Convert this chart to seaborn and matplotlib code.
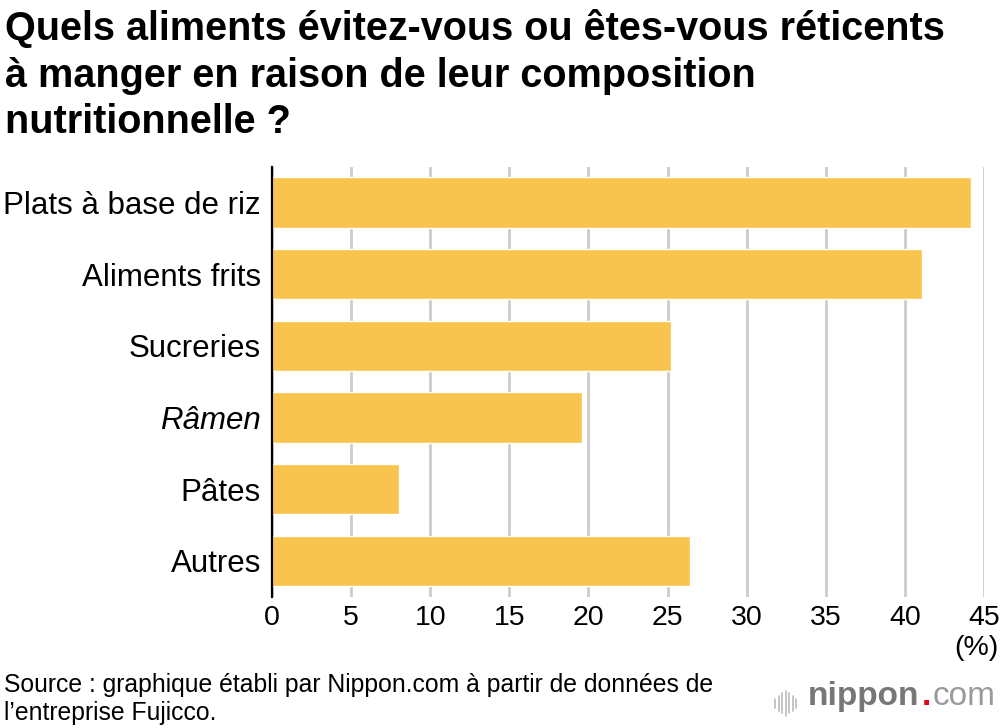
import matplotlib
matplotlib.use("Agg")
import matplotlib.pyplot as plt
from matplotlib.lines import Line2D
import seaborn as sns
import pandas as pd

categories = ["Plats à base de riz", "Aliments frits", "Sucreries", "Râmen", "Pâtes", "Autres"]
values = [44.2, 41.1, 25.2, 19.6, 8.0, 26.4]
xticks = [0, 5, 10, 15, 20, 25, 30, 35, 40, 45]

title = "Quels aliments évitez-vous ou êtes-vous réticents\nà manger en raison de leur composition\nnutritionnelle ?"
source = "Source : graphique établi par Nippon.com à partir de données de\nl’entreprise Fujicco."

sns.set_theme(style="white")
plt.rcParams['font.family'] = ['Liberation Sans', 'DejaVu Sans']

df = pd.DataFrame({"cat": categories, "val": values})

fig = plt.figure(figsize=(10, 7.28), dpi=100)
ax = fig.add_axes([0.272, 0.1804, 0.712, 0.5906])

sns.barplot(data=df, x="val", y="cat", orient="h", color="#F8C44E", width=0.7,
            saturation=1, ax=ax, zorder=3)

ax.set_xlim(0, 45)
ax.set_ylim(5.5, -0.5)
ax.set_xticks(xticks)
ax.set_xticklabels([str(t) for t in xticks])
ax.xaxis.grid(True, color="#CCCCCC", linewidth=2, zorder=0)
ax.set_axisbelow(True)
ax.set_xlabel("")
ax.set_ylabel("")
for s in ["top", "right", "bottom"]:
    ax.spines[s].set_visible(False)
ax.spines["left"].set_color("black")
ax.spines["left"].set_linewidth(1.6)
ax.spines["left"].set_zorder(5)
ax.tick_params(axis="x", length=0, labelsize=20.5, pad=6, colors="black")
ax.tick_params(axis="y", length=0, labelsize=22.5, pad=8, colors="black")
for lab in ax.get_yticklabels():
    if lab.get_text() == "Râmen":
        lab.set_style("italic")

fig.text(0.005, 0.9876, title, ha="left", va="top", fontsize=28.5, fontweight="bold",
         linespacing=1.285, color="black")
fig.text(0.999, 0.11, "(%)", ha="right", va="center", fontsize=20.5, color="black")
fig.text(0.004, 0.004, source, ha="left", va="bottom", fontsize=17.8, linespacing=1.2,
         color="black")

# logo
ly = 0.031
fig.text(0.808, ly, "nippon", ha="left", va="baseline", fontsize=24, fontweight="bold",
         color="#777777")
fig.text(0.922, ly, ".", ha="left", va="baseline", fontsize=24, fontweight="bold",
         color="#E60012")
fig.text(0.933, ly, "com", ha="left", va="baseline", fontsize=24, color="#9A9A9A")
bars_h = [0.012, 0.02, 0.028, 0.034, 0.028, 0.02, 0.012]
for i, h in enumerate(bars_h):
    x = 0.775 + i * 0.0035
    fig.add_artist(Line2D([x, x], [0.034 - h / 2, 0.034 + h / 2], color="#BBBBBB",
                          linewidth=1.2, transform=fig.transFigure))

fig.savefig("out.png", dpi=100)
